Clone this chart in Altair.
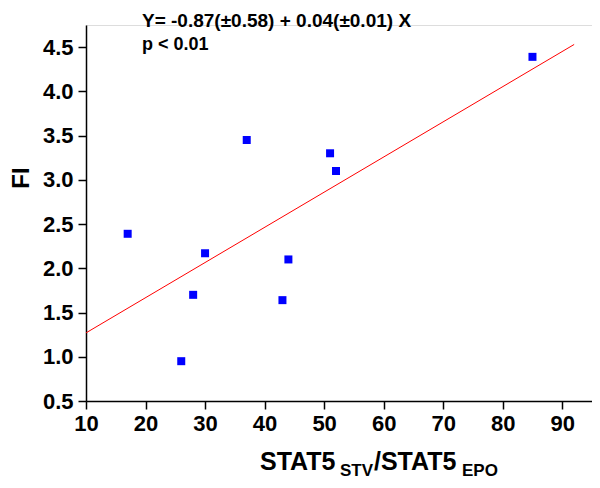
import altair as alt
import pandas as pd

# data
stat_ratio = [17, 26, 28, 30, 37, 43, 44, 51, 52, 85]
fi_values = [2.39, 0.95, 1.70, 2.17, 3.45, 1.64, 2.10, 3.30, 3.10, 4.39]
fit_x = [10, 92]
fit_y = [1.27, 4.53]
x_ticks = [10, 15, 20, 25, 30, 35, 40, 45, 50, 55, 60, 65, 70, 75, 80, 85, 90, 95]
y_ticks = [0.5, 0.75, 1.0, 1.25, 1.5, 1.75, 2.0, 2.25, 2.5, 2.75, 3.0, 3.25,
           3.5, 3.75, 4.0, 4.25, 4.5, 4.75]
equation = "Y= -0.87(\u00b10.58) + 0.04(\u00b10.01) X"
pvalue = "p < 0.01"

FONT = "Liberation Sans, Arial, sans-serif"

pts = pd.DataFrame({"x": stat_ratio, "y": fi_values})
fit = pd.DataFrame({"x": fit_x, "y": fit_y})
one = pd.DataFrame({"a": [0]})

common_axis = dict(
    labelFont=FONT, labelFontSize=22, labelFontWeight="bold", labelColor="black",
    domainColor="black", tickColor="black", domainWidth=1.5, tickWidth=1.5,
    grid=False, title=None, labelOverlap=False, labelFlush=False, labelBound=False,
)

xscale = alt.Scale(domain=[10, 95], nice=False, zero=False)
yscale = alt.Scale(domain=[0.5, 4.75], nice=False, zero=False)

xaxis = alt.Axis(
    values=x_ticks,
    labelExpr="datum.value % 10 == 0 ? datum.label : ''",
    tickSize={"condition": {"test": "datum.value % 10 != 0", "value": 4}, "value": 8},
    labelPadding=4,
    **common_axis,
)
yaxis = alt.Axis(
    values=y_ticks,
    format=".1f",
    labelExpr="(datum.value * 2) % 1 == 0 ? datum.label : ''",
    tickSize={"condition": {"test": "(datum.value * 2) % 1 != 0", "value": 4}, "value": 8},
    labelPadding=5,
    **common_axis,
)

points = alt.Chart(pts).mark_square(size=64, color="#0000FF", opacity=1).encode(
    x=alt.X("x:Q", scale=xscale, axis=xaxis),
    y=alt.Y("y:Q", scale=yscale, axis=yaxis),
)

line = alt.Chart(fit).mark_line(color="#FF0000", strokeWidth=1).encode(
    x=alt.X("x:Q", scale=xscale),
    y=alt.Y("y:Q", scale=yscale),
)


def txt(s, x, y, size, angle=0, align="left", baseline="alphabetic"):
    kw = dict(font=FONT, fontSize=size, fontWeight="bold", color="black",
              align=align, baseline=baseline)
    if angle:
        kw["angle"] = angle
    return alt.Chart(one).mark_text(**kw).encode(
        text=alt.value(s), x=alt.value(x), y=alt.value(y)
    )


texts = [
    txt(equation, 56, 2, 19),
    txt(pvalue, 56, 25, 18),
    txt("FI", -64, 153, 24, angle=270, align="center", baseline="middle"),
    txt("STAT5", 174, 445, 25),
    txt("STV", 254, 451, 17),
    txt("/STAT5", 288, 445, 25),
    txt("EPO", 376, 451, 17),
]

chart = alt.layer(line, points, *texts).properties(
    width=506, height=376,
    autosize=alt.AutoSizeParams(type="none"),
    padding={"left": 78, "top": 17, "right": 0, "bottom": 79},
).configure_view(stroke=None).configure(background="white")

chart.save("out.html", embed_options={"renderer": "svg", "actions": False})
